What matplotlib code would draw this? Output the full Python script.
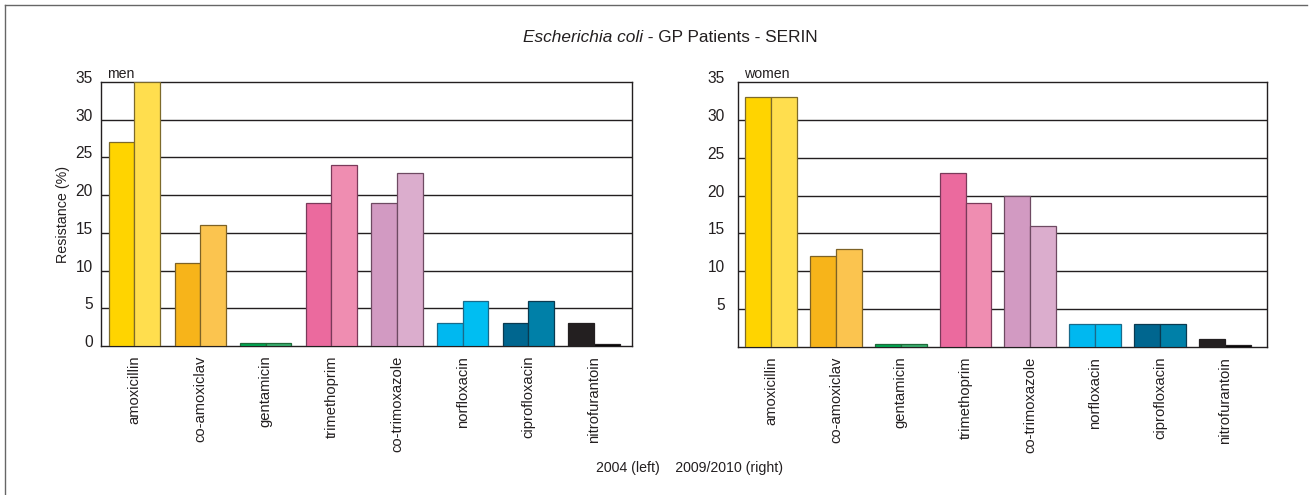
import matplotlib
matplotlib.use("Agg")
import matplotlib.pyplot as plt
import numpy as np
from matplotlib.transforms import ScaledTranslation
from matplotlib.lines import Line2D

categories = ["amoxicillin", "co-amoxiclav", "gentamicin", "trimethoprim",
              "co-trimoxazole", "norfloxacin", "ciprofloxacin", "nitrofurantoin"]
men_2004 = [27, 11, 0.35, 19, 19, 3, 3, 3]
men_2009 = [35, 16, 0.35, 24, 23, 6, 6, 0.3]
women_2004 = [33, 12, 0.35, 23, 20, 3, 3, 1]
women_2009 = [33, 13, 0.35, 19, 16, 3, 3, 0.3]

colors_2004 = ["#FFD400", "#F7B41A", "#00A651", "#EB6A9E", "#D29AC2", "#00B8F0", "#00668F", "#231F20"]
colors_2009 = ["#FFDE4E", "#FBC44F", "#3AAE6F", "#EF8DB1", "#DBADCD", "#00BEF2", "#0080A8", "#000000"]
edge_colors = ["#7d6a2a", "#7d6226", "#1f6a3a", "#7a3a5a", "#6e4a62", "#1a6a8a", "#0a3a50", "#231F20"]

yticks_men = [0, 5, 10, 15, 20, 25, 30, 35]
yticks_women = [5, 10, 15, 20, 25, 30, 35]

plt.rcParams["font.family"] = ["Liberation Sans", "DejaVu Sans"]
TXT = "#231F20"

W, H = 1310, 495
fig = plt.figure(figsize=(W / 100, H / 100), dpi=100)

def px_rect(l, t, r, b):
    return [l / W, 1 - b / H, (r - l) / W, (b - t) / H]

ax1 = fig.add_axes(px_rect(101, 82, 632, 346))
ax2 = fig.add_axes(px_rect(738, 82, 1267, 347))

def draw(ax, v04, v09, yticks, label, xlim, bw, pad_px):
    x = np.arange(len(categories))
    ax.set_axisbelow(True)
    for i in x:
        ax.bar(i - bw / 2, v04[i], width=bw, color=colors_2004[i], edgecolor=edge_colors[i], linewidth=0.9, zorder=3)
        ax.bar(i + bw / 2, v09[i], width=bw, color=colors_2009[i], edgecolor=edge_colors[i], linewidth=0.9, zorder=3)
    ax.set_xlim(*xlim)
    ax.set_ylim(0, 35)
    ax.set_yticks(yticks)
    ax.set_yticklabels([str(t) for t in yticks], fontsize=11.2, color=TXT)
    ax.set_xticks(x)
    ax.set_xticklabels(categories, rotation=90, fontsize=10.6, color=TXT)
    ax.tick_params(axis="both", length=0)
    ax.tick_params(axis="y", pad=pad_px * 0.72)
    ax.tick_params(axis="x", pad=7)
    for t in [5, 10, 15, 20, 25, 30]:
        ax.axhline(t, color=TXT, linewidth=1.0, zorder=1)
    for s in ax.spines.values():
        s.set_color(TXT)
        s.set_linewidth(1.0)
    off = ScaledTranslation(0, 5 / 100, fig.dpi_scale_trans)
    for lab in ax.get_yticklabels():
        lab.set_transform(lab.get_transform() + off)
    ax.text(0.011, 1.004, label, transform=ax.transAxes, fontsize=10.2,
            ha="left", va="bottom", color=TXT)

draw(ax1, men_2004, men_2009, yticks_men, "men", (-0.51, 7.58), 0.39, 8)
draw(ax2, women_2004, women_2009, yticks_women, "women", (-0.51, 7.65), 0.40, 13)
ax1.set_ylabel("Resistance (%)", fontsize=10.3, color=TXT, labelpad=4)

# Title with italic part
fig.canvas.draw()
r = fig.canvas.get_renderer()
ty = 1 - 37 / H
TFS = 12.4
t1 = fig.text(0, ty, "Escherichia coli", style="italic", fontsize=TFS, va="center", ha="left", color=TXT)
t2 = fig.text(0, ty, " - GP Patients - SERIN", fontsize=TFS, va="center", ha="left", color=TXT)
w1 = t1.get_window_extent(r).width
w2 = t2.get_window_extent(r).width
cx = 670
x0 = cx - (w1 + w2) / 2
t1.set_x(x0 / W)
t2.set_x((x0 + w1) / W)

fig.text(690 / W, 1 - 468 / H, "2004 (left)    2009/2010 (right)", fontsize=10.2,
         ha="center", va="center", color=TXT)

# outer frame (top and left)
fig.add_artist(Line2D([4.5 / W, 4.5 / W], [0, 1 - 5 / H], color="#666666", linewidth=1.0))
fig.add_artist(Line2D([4.5 / W, 1307 / W], [1 - 5 / H, 1 - 5 / H], color="#666666", linewidth=1.0))

fig.savefig("out.png", dpi=100)
